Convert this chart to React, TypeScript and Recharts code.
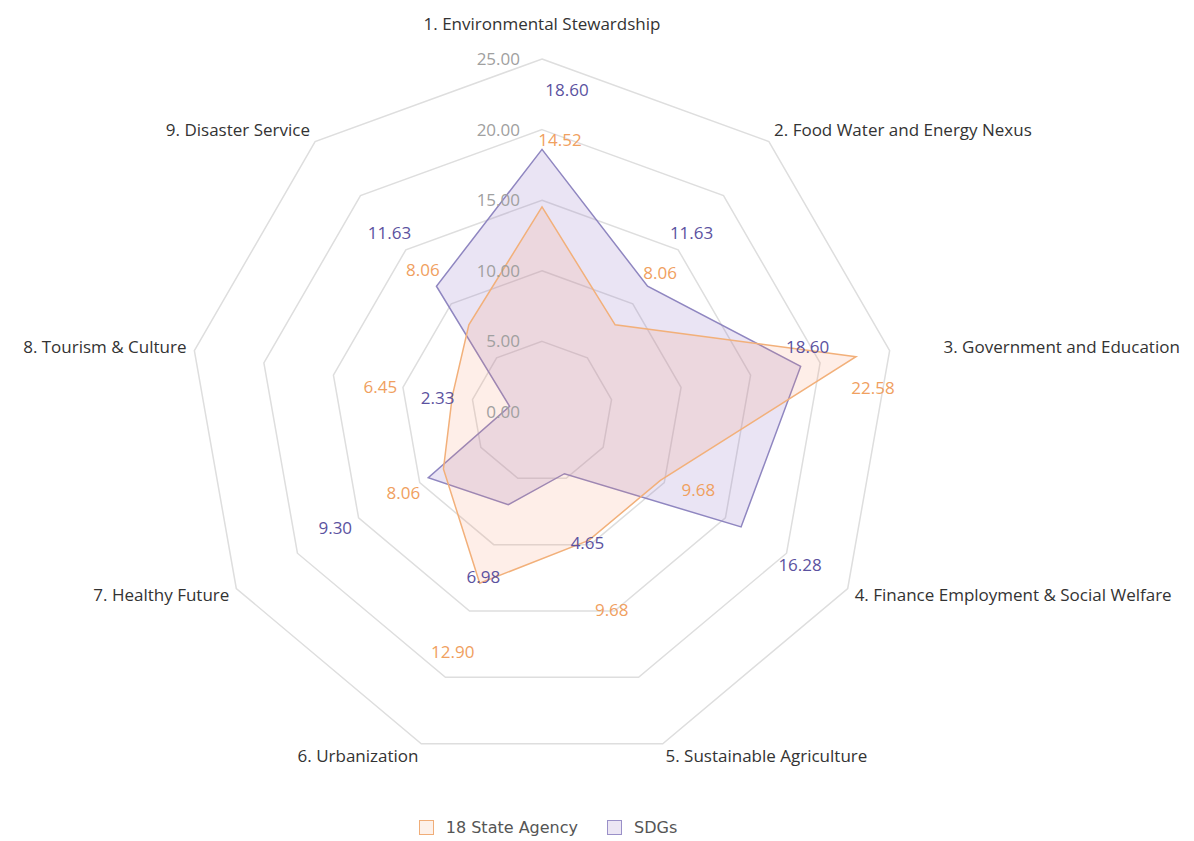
import { RadarChart, Radar, PolarGrid, PolarAngleAxis, PolarRadiusAxis, Legend } from 'recharts'

const categories = [
  '1. Environmental Stewardship',
  '2. Food Water and Energy Nexus',
  '3. Government and Education',
  '4. Finance Employment & Social Welfare',
  '5. Sustainable Agriculture',
  '6. Urbanization',
  '7. Healthy Future',
  '8. Tourism & Culture',
  '9. Disaster Service',
]
const stateAgency = [14.52, 8.06, 22.58, 9.68, 9.68, 12.9, 8.06, 6.45, 8.06]
const sdgs = [18.6, 11.63, 18.6, 16.28, 4.65, 6.98, 9.3, 2.33, 11.63]
const radiusTicks = [0, 5, 10, 15, 20, 25]

const chartData = categories.map((name, i) => ({
  name,
  state: stateAgency[i],
  sdg: sdgs[i],
}))

const CX = 534
const CY = 404
const R = 353
const FONT = '"Open Sans", sans-serif'

// label nudges relative to each vertex, so values do not collide
const sdgLabelOffset = [[25, -59], [44, -53], [7, -19], [59, 38], [23, 69], [-25, 72], [-93, 50], [-72, -8], [-47, -53]]
const stateLabelOffset = [[18, -67], [45, -52], [17, 31], [38, 10], [23, 70], [-27, 69], [-40, 24], [-72, -9], [-46, -55]]

const makeLabel = (offsets: number[][], color: string) => (props: any) => {
  const x = props.x ?? props.viewBox?.x
  const y = props.y ?? props.viewBox?.y
  const i = props.index ?? 0
  const [dx, dy] = offsets[i] || [0, 0]
  return (
    <text x={x + dx} y={y + dy} dy="0.35em" textAnchor="middle" fill={color} fontSize={17} fontFamily={FONT}>
      {Number(props.value).toFixed(2)}
    </text>
  )
}

function AngleTick(props: any) {
  const { x, y, payload, textAnchor } = props
  let dx = 0
  let dy = 5 + 6 * ((y - CY) / (R + 8))
  if (textAnchor === 'middle') dy = y < CY ? -21 : 18
  if (payload.value === categories[2]) dx = 46
  return (
    <text x={x + dx} y={y + dy} textAnchor={textAnchor} fill="#333" fontSize={17} fontFamily={FONT}>
      {payload.value}
    </text>
  )
}

function RadiusTick(props: any) {
  const { x, y, payload } = props
  return (
    <text x={x - 22} y={y} dy="0.35em" textAnchor="end" fill="#a0a0a0" fontSize={17} fontFamily={FONT}>
      {Number(payload.value).toFixed(2)}
    </text>
  )
}

function LegendContent() {
  const items = [
    { name: '18 State Agency', stroke: '#f0ad78', fill: '#fdf1ea' },
    { name: 'SDGs', stroke: '#9a90c8', fill: '#ece6f4' },
  ]
  return (
    <div style={{ display: 'flex', justifyContent: 'center', gap: 29, fontFamily: '"DejaVu Sans", sans-serif', fontSize: 16, lineHeight: '19px', color: '#555' }}>
      {items.map((it) => (
        <div key={it.name} style={{ display: 'flex', alignItems: 'center', gap: 12 }}>
          <span style={{ width: 13, height: 13, border: `1.5px solid ${it.stroke}`, background: it.fill, display: 'inline-block' }} />
          <span>{it.name}</span>
        </div>
      ))}
    </div>
  )
}

export default function App() {
  return (
    <div style={{ width: 1178, height: 833 }}>
      <style>{'body { overflow: hidden; }'}</style>
      <RadarChart width={1178} height={833} data={chartData} cx={CX} cy={CY} outerRadius={R} margin={{ top: 0, right: 0, bottom: 0, left: 0 }}>
        <PolarGrid gridType="polygon" radialLines={false} stroke="#dedede" strokeWidth={1.5} />
        <PolarAngleAxis dataKey="name" tick={<AngleTick />} tickLine={false} axisLine={false} />
        <PolarRadiusAxis angle={90} domain={[0, 25]} ticks={radiusTicks as any} tickCount={6} axisLine={false} tick={<RadiusTick />} />
        <Radar
          name="SDGs"
          dataKey="sdg"
          stroke="#8f86c0"
          strokeWidth={1.5}
          fill="rgb(150,120,200)"
          fillOpacity={0.2}
          isAnimationActive={false}
          label={makeLabel(sdgLabelOffset, '#5b52a0')}
        />
        <Radar
          name="18 State Agency"
          dataKey="state"
          stroke="#f2b07a"
          strokeWidth={1.5}
          fill="rgb(245,140,100)"
          fillOpacity={0.15}
          isAnimationActive={false}
          label={makeLabel(stateLabelOffset, '#f0a060')}
        />
        <Legend content={<LegendContent />} wrapperStyle={{ left: 0, width: 1080, top: 810, bottom: 'auto' }} />
      </RadarChart>
    </div>
  )
}
